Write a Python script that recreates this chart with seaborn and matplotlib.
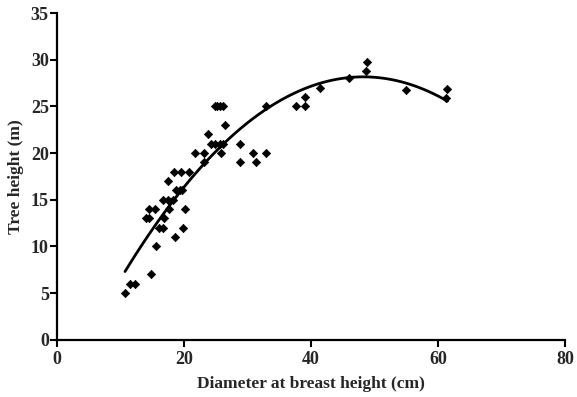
import matplotlib
matplotlib.use('Agg')
from matplotlib import pyplot as plt
import numpy as np
import pandas as pd
import seaborn as sns

# diameter at breast height (cm) and tree height (m)
dbh = [10.7, 11.5, 12.3, 14.8, 15.5, 14.0, 14.5, 14.5, 15.4, 16.1,
       16.7, 16.9, 16.7, 17.5, 18.2, 17.6, 17.5, 18.4, 19.5, 20.7,
       18.8, 19.3, 19.6, 20.2, 19.8, 18.6, 21.8, 23.1, 23.1, 23.8,
       24.3, 24.9, 25.6, 26.2, 25.8, 24.8, 25.2, 25.7, 26.1, 26.5,
       28.8, 28.8, 30.9, 31.3, 32.9, 32.9, 37.7, 39.1, 39.1, 41.4,
       46.0, 48.7, 48.9, 55.0, 61.5, 61.3]
height = [5, 6, 6, 7, 10, 13, 13, 14, 14, 12,
          12, 13, 15, 15, 15, 14, 17, 18, 18, 18,
          16, 16, 16, 14, 12, 11, 20, 20, 19, 22,
          21, 21, 21, 21, 20, 25, 25, 25, 25, 23,
          21, 19, 20, 19, 20, 25, 25, 25, 26, 27,
          28, 28.8, 29.8, 26.8, 26.9, 25.9]

x_ticks = [0, 20, 40, 60, 80]
y_ticks = [0, 5, 10, 15, 20, 25, 30, 35]

df = pd.DataFrame({'dbh': dbh, 'height': height})

sns.set_style('ticks')
plt.rcParams['font.family'] = ['Liberation Serif', 'DejaVu Serif']

fig = plt.figure(figsize=(5.77, 3.97), dpi=100)
ax = fig.add_axes([0.099, 0.144, 0.880, 0.823])

# quadratic fit through the data
sns.regplot(x='dbh', y='height', data=df, order=2, ci=None, scatter=False,
            truncate=True, color='black', line_kws={'linewidth': 2}, ax=ax)
sns.scatterplot(x='dbh', y='height', data=df, marker='D', s=18,
                color='black', edgecolor='black', linewidth=0.5, ax=ax)

ax.set_xlim(0, 80)
ax.set_ylim(0, 35)
ax.set_xticks(x_ticks)
ax.set_yticks(y_ticks)
ax.set_xlabel('Diameter at breast height (cm)', fontsize=12.5, fontweight='bold', labelpad=6)
ax.set_ylabel('Tree height (m)', fontsize=12.5, fontweight='bold', labelpad=5)

for lab in ax.get_xticklabels() + ax.get_yticklabels():
    lab.set_fontweight('bold')
    lab.set_fontsize(13)
ax.tick_params(axis='both', length=5, width=1.5, color='black')
ax.tick_params(axis='x', pad=3)
ax.tick_params(axis='y', pad=1)

sns.despine(ax=ax)
for s in ['left', 'bottom']:
    ax.spines[s].set_linewidth(1.6)
    ax.spines[s].set_color('black')

fig.savefig('out.png', dpi=100)
